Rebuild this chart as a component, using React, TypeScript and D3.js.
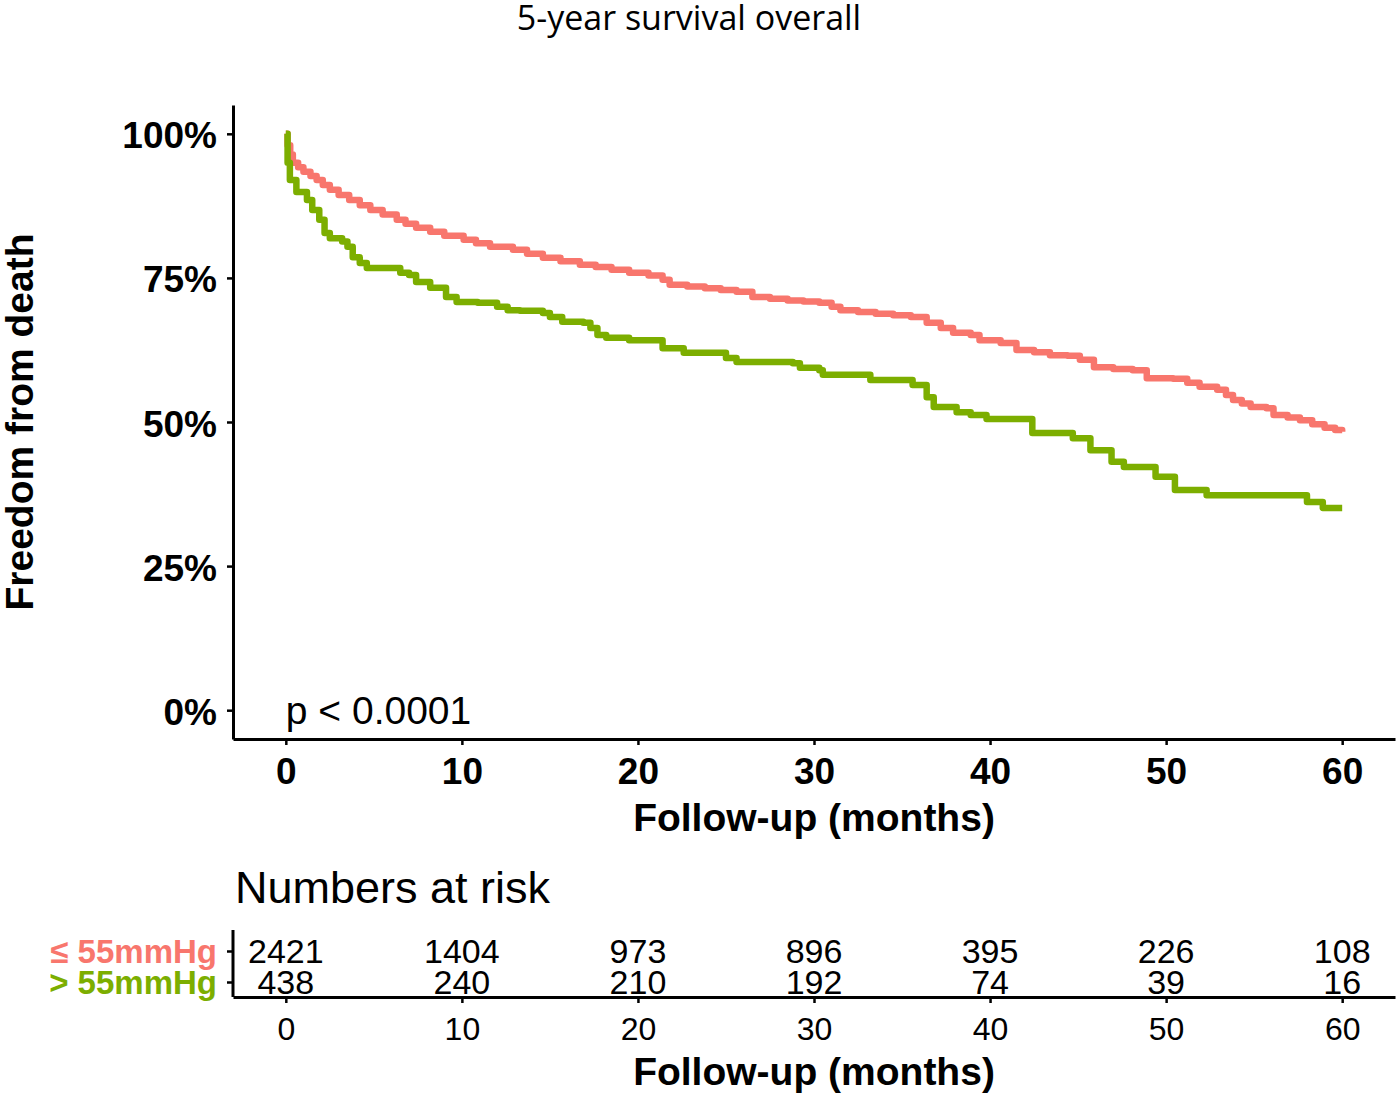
import * as d3 from 'd3';
import { useEffect, useRef } from 'react';

const WIDTH = 1400;
const HEIGHT = 1096;

const TITLE = '5-year survival overall';
const Y_LABEL = 'Freedom from death';
const X_LABEL = 'Follow-up (months)';
const P_LABEL = 'p < 0.0001';
const RISK_TITLE = 'Numbers at risk';

const RED = '#F8766D';
const GREEN = '#7CAE00';

const strata = ['≤ 55mmHg', '> 55mmHg'];
const xTicks = [0, 10, 20, 30, 40, 50, 60];
const yTicks = [0, 0.25, 0.5, 0.75, 1];

// Kaplan-Meier step points (months, survival %)
const lowTimes = [
    0, 0.1, 0.25, 0.4, 0.7, 1.0, 1.4, 1.75, 2.1, 2.5, 3.0, 3.6, 4.2, 4.8, 5.5, 6.3, 6.8, 7.4, 8.2, 9.0,
    10.1, 10.8, 11.6, 12.9, 13.7, 14.6, 15.6, 16.7, 17.6, 18.5, 19.5, 20.6, 21.4, 21.8, 22.8, 23.8, 24.7,
    25.6, 26.5, 27.5, 28.5, 29.4, 30.3, 31.0, 31.5, 32.5, 33.5, 34.5, 35.5, 36.4, 37.2, 37.9, 38.9, 39.4,
    40.6, 41.5, 42.5, 43.4, 44.4, 45.1, 45.9, 47.0, 48.1, 48.9, 50.4, 51.2, 51.9, 52.9, 53.4, 53.8, 54.3,
    54.8, 55.7, 56.1, 56.9, 57.6, 58.3, 59.0, 59.6, 60,
];
const lowSurv = [
    100, 98.0, 96.4, 95.0, 94.2, 93.4, 92.7, 92.0, 91.1, 90.3, 89.4, 88.5, 87.6, 86.8, 86.0, 85.1, 84.4,
    83.7, 83.0, 82.3, 81.6, 81.0, 80.4, 79.9, 79.2, 78.5, 77.9, 77.3, 76.9, 76.4, 75.9, 75.4, 74.7, 73.8,
    73.5, 73.2, 72.9, 72.6, 71.7, 71.4, 71.1, 70.9, 70.7, 70.0, 69.4, 69.1, 68.8, 68.5, 68.2, 67.2, 66.3,
    65.5, 65.1, 64.2, 63.7, 62.5, 62.1, 61.6, 61.5, 60.8, 59.5, 59.2, 59.0, 57.6, 57.5, 56.8, 56.1, 55.6,
    54.7, 53.8, 53.2, 52.6, 52.4, 51.2, 50.8, 50.3, 49.6, 49.0, 48.6, 48.3,
];
const highTimes = [
    0, 0.1, 0.23, 0.6, 1.2, 1.5, 1.9, 2.2, 2.5, 3.2, 3.5, 3.8, 4.2, 4.6, 6.1, 6.5, 7.0, 7.4, 8.2, 9.1, 9.7,
    10.9, 12.0, 12.6, 13.3, 14.6, 15.0, 15.7, 16.9, 17.3, 17.7, 18.2, 19.5, 21.4, 22.6, 25.0, 25.6, 28.8,
    29.2, 30.3, 30.5, 33.2, 35.6, 36.4, 36.8, 38.1, 38.9, 39.8, 42.4, 44.7, 45.7, 46.9, 47.6, 49.4, 50.5,
    52.3, 58.0, 58.9, 60,
];
const highSurv = [
    100, 95.0, 92.0, 89.9, 88.5, 86.8, 85.1, 82.8, 81.9, 81.3, 80.4, 78.6, 77.6, 76.7, 76.7, 75.9, 75.5,
    74.3, 73.3, 71.7, 70.8, 70.7, 70.0, 69.4, 69.3, 68.9, 68.2, 67.4, 67.2, 66.3, 65.1, 64.6, 64.2, 62.8,
    62.0, 61.1, 60.4, 60.2, 59.4, 59.0, 58.2, 57.3, 56.4, 54.3, 52.6, 51.7, 51.2, 50.5, 48.1, 47.2, 45.1,
    43.1, 42.2, 40.5, 38.2, 37.3, 36.1, 35.1, 35.1,
];

const lowRisk = [2421, 1404, 973, 896, 395, 226, 108];
const highRisk = [438, 240, 210, 192, 74, 39, 16];

const MAIN_FONT = 'Liberation Sans, Arial, sans-serif';

const App = () => {
    const svgRef = useRef<SVGSVGElement>(null);

    useEffect(() => {
        if (!svgRef.current) return;
        const svg = d3.select(svgRef.current);
        svg.selectAll('*').remove();

        const xScale = d3.scaleLinear().domain([-3, 63]).range([233, 1395]);
        const yScale = d3.scaleLinear().domain([-0.05, 1.05]).range([739, 105]);

        svg.append('text')
            .attr('x', 689)
            .attr('y', 30)
            .attr('text-anchor', 'middle')
            .style('font-family', 'Open Sans, sans-serif')
            .style('font-size', '34px')
            .text(TITLE);

        // main plot axes
        const xAxis = svg
            .append('g')
            .attr('transform', `translate(0,${yScale(-0.05)})`)
            .call(d3.axisBottom(xScale).tickValues(xTicks).tickSize(6).tickSizeOuter(0).tickPadding(8));
        const yAxis = svg
            .append('g')
            .attr('transform', `translate(${xScale(-3)},0)`)
            .call(
                d3
                    .axisLeft(yScale)
                    .tickValues(yTicks)
                    .tickFormat((d) => `${Math.round(+d * 100)}%`)
                    .tickSize(6)
                    .tickSizeOuter(0)
                    .tickPadding(10)
            );
        [xAxis, yAxis].forEach((a) => {
            a.select('.domain').attr('stroke', '#000').attr('stroke-width', 3);
            a.selectAll('.tick line').attr('stroke', '#000').attr('stroke-width', 2.5);
            a.selectAll('.tick text')
                .attr('fill', '#000')
                .style('font-family', MAIN_FONT)
                .style('font-weight', 'bold')
                .style('font-size', '37px');
        });
        xAxis.selectAll('.tick text').attr('dy', '0.83em');
        yAxis.selectAll('.tick text').attr('dy', '0.38em');

        // curves
        const line = d3
            .line<[number, number]>()
            .x((d) => xScale(d[0]))
            .y((d) => yScale(d[1] / 100))
            .curve(d3.curveStepAfter);

        const series: { times: number[]; surv: number[]; color: string }[] = [
            { times: lowTimes, surv: lowSurv, color: RED },
            { times: highTimes, surv: highSurv, color: GREEN },
        ];
        series.forEach((s) => {
            const pts = s.times.map((t, i) => [t, s.surv[i]] as [number, number]);
            svg.append('path')
                .datum(pts)
                .attr('d', line)
                .attr('fill', 'none')
                .attr('stroke', s.color)
                .attr('stroke-width', 6.5)
                .attr('stroke-linejoin', 'round');
        });

        svg.append('text')
            .attr('x', xScale(0))
            .attr('y', yScale(0) + 14)
            .style('font-family', MAIN_FONT)
            .style('font-size', '39px')
            .text(P_LABEL);

        svg.append('text')
            .attr('x', xScale(30))
            .attr('y', 831)
            .attr('text-anchor', 'middle')
            .style('font-family', MAIN_FONT)
            .style('font-weight', 'bold')
            .style('font-size', '39px')
            .text(X_LABEL);

        svg.append('text')
            .attr('transform', `translate(33,${yScale(0.5)}) rotate(-90)`)
            .attr('text-anchor', 'middle')
            .style('font-family', MAIN_FONT)
            .style('font-weight', 'bold')
            .style('font-size', '39px')
            .text(Y_LABEL);

        // risk table
        svg.append('text')
            .attr('x', 235)
            .attr('y', 903)
            .style('font-family', MAIN_FONT)
            .style('font-size', '45px')
            .text(RISK_TITLE);

        const rowScale = d3.scalePoint<string>().domain(strata).range([951, 982]);
        const riskX = svg
            .append('g')
            .attr('transform', `translate(0,997)`)
            .call(d3.axisBottom(xScale).tickValues(xTicks).tickSize(6).tickSizeOuter(0).tickPadding(8));
        riskX.select('.domain').attr('stroke', '#000').attr('stroke-width', 3);
        riskX.selectAll('.tick line').attr('stroke', '#000').attr('stroke-width', 2.5);
        riskX.selectAll('.tick text')
            .attr('fill', '#000')
            .attr('dy', '0.9em')
            .style('font-family', MAIN_FONT)
            .style('font-size', '32px');

        const riskY = svg
            .append('g')
            .attr('transform', `translate(${xScale(-3)},0)`)
            .call(d3.axisLeft(rowScale).tickSize(6).tickSizeOuter(0).tickPadding(10));
        riskY.select('.domain').attr('d', 'M0,930V997').attr('stroke', '#000').attr('stroke-width', 3);
        riskY.selectAll('.tick line').attr('stroke', '#000').attr('stroke-width', 2.5);
        riskY.selectAll<SVGTextElement, string>('.tick text')
            .attr('fill', (d) => (d === strata[0] ? RED : GREEN))
            .attr('dy', '0.36em')
            .style('font-family', MAIN_FONT)
            .style('font-weight', 'bold')
            .style('font-size', '33px');

        const rows = [
            { label: strata[0], values: lowRisk },
            { label: strata[1], values: highRisk },
        ];
        rows.forEach((r) => {
            svg.append('g')
                .selectAll('text')
                .data(r.values)
                .enter()
                .append('text')
                .attr('x', (_d, i) => xScale(xTicks[i]))
                .attr('y', rowScale(r.label)!)
                .attr('dy', '0.36em')
                .attr('text-anchor', 'middle')
                .style('font-family', MAIN_FONT)
                .style('font-size', '34px')
                .text((d) => d);
        });

        svg.append('text')
            .attr('x', xScale(30))
            .attr('y', 1085)
            .attr('text-anchor', 'middle')
            .style('font-family', MAIN_FONT)
            .style('font-weight', 'bold')
            .style('font-size', '39px')
            .text(X_LABEL);
    }, []);

    return (
        <svg
            ref={svgRef}
            width={WIDTH}
            height={HEIGHT}
            style={{ position: 'absolute', left: 0, top: 0, background: '#fff' }}
        ></svg>
    );
};

export default App;
